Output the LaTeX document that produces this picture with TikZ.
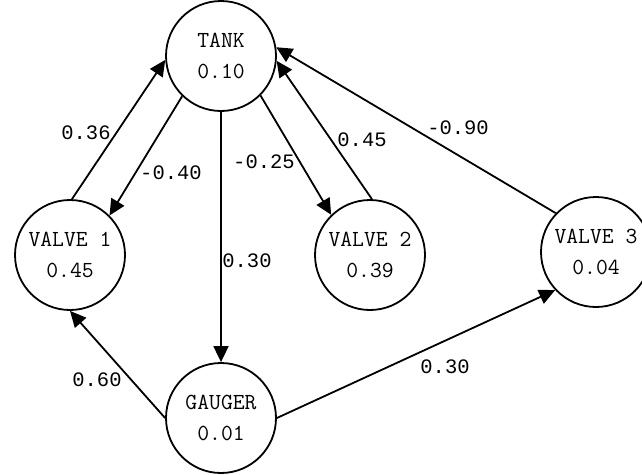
\documentclass[tikz,border=0pt]{standalone}
\usepackage{fontspec}
\newfontfamily\labfont{Liberation Mono}
\usetikzlibrary{arrows.meta}
\begin{document}
\begin{tikzpicture}[x=1pt,y=-1pt,
  state/.style={circle,draw,line width=1.8pt,minimum size=110pt,inner sep=0pt,
    align=center,font=\ttfamily\fontsize{23}{31}\selectfont},
  lab/.style={font=\labfont\fontsize{20.5}{22}\selectfont,inner sep=0pt},
  conn/.style={line width=1.8pt,-{Triangle[length=16pt,width=15pt]}}]
\useasboundingbox (0,0) rectangle (642,474);
\node[state] (tank) at (221,56) {TANK\\0.10};
\node[state] (v1) at (70,255) {VALVE 1\\0.45};
\node[state] (v2) at (370,255) {VALVE 2\\0.39};
\node[state] (v3) at (596,252) {VALVE 3\\0.04};
\node[state] (g) at (221,418) {GAUGER\\0.01};

\draw[conn] (v1.88) -- (tank.184);
\draw[conn] (tank.226) -- (v1.45);
\draw[conn] (tank.270) -- (g.90);
\draw[conn] (tank.315) -- (v2.134);
\draw[conn] (v2.88) -- (tank.355);
\draw[conn] (v3.136) -- (tank.9);
\draw[conn] (g.180) -- (v1.270);
\draw[conn] (g.0) -- (v3.223);

\node[lab] (l1) at (86,133) {0.36};
\node[lab] (l2) at (171,173) {-0.40};
\node[lab] (l3) at (264,162) {-0.25};
\node[lab] (l4) at (362,140) {0.45};
\node[lab] (l5) at (458,128) {-0.90};
\node[lab] (l6) at (247,261) {0.30};
\node[lab] (l7) at (97,380) {0.60};
\node[lab] (l8) at (445,367) {0.30};
\end{tikzpicture}
\end{document}
